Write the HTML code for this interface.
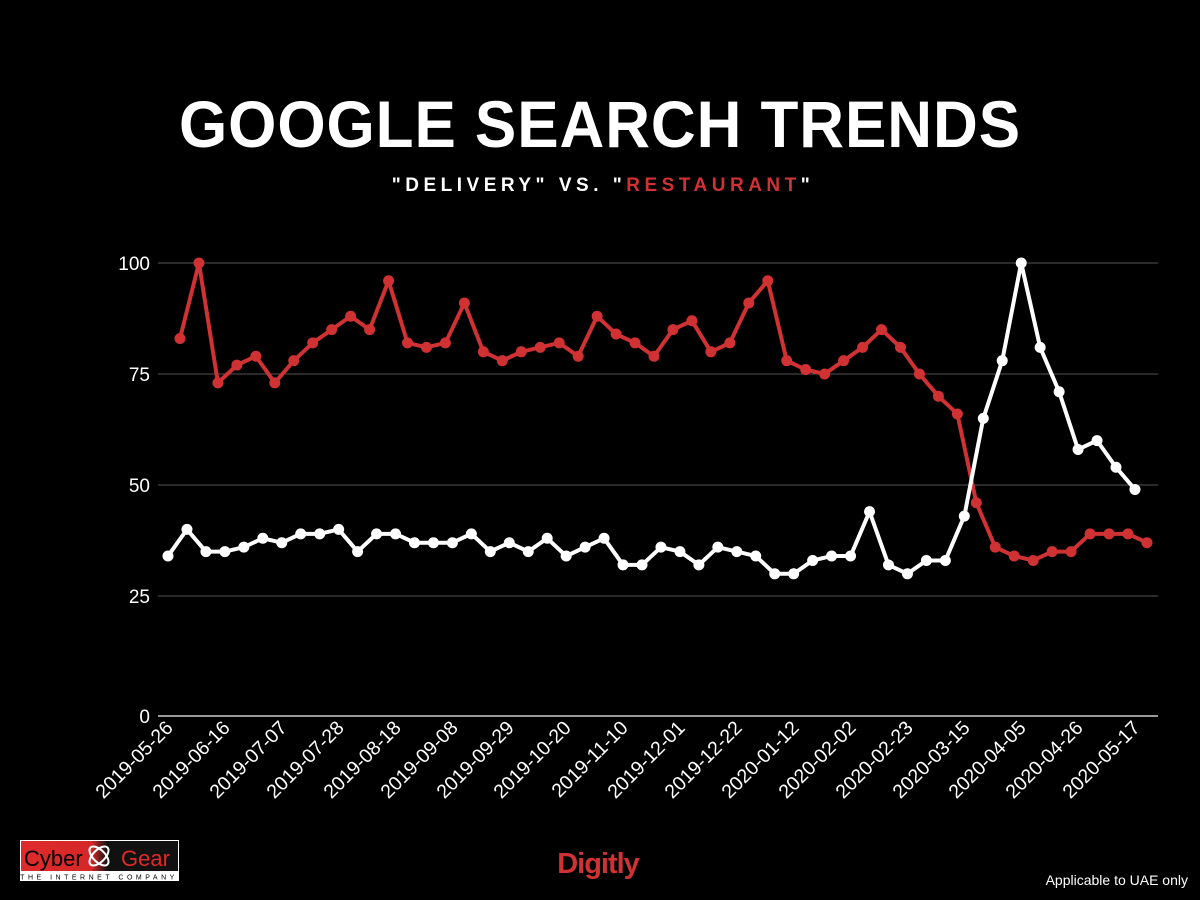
<!DOCTYPE html>
<html><head><meta charset="utf-8"><style>
body{margin:0;background:#000;width:1200px;height:900px;overflow:hidden;font-family:"Liberation Sans",sans-serif}
</style></head><body>
<svg id="s" width="1200" height="900" xmlns="http://www.w3.org/2000/svg" style="position:absolute;left:0;top:0">
<rect width="1200" height="900" fill="#000"/>
<text x="600" y="147" text-anchor="middle" fill="#fff" font-size="66" font-weight="bold" font-family="Liberation Sans, sans-serif" letter-spacing="1" textLength="842" lengthAdjust="spacingAndGlyphs">GOOGLE SEARCH TRENDS</text>
<text x="603" y="191" text-anchor="middle" fill="#fff" font-size="19" font-weight="bold" letter-spacing="4.5">"DELIVERY" VS. "<tspan fill="#d03234">RESTAURANT</tspan>"</text>
<g stroke="#555" stroke-width="1">
<line x1="158" x2="1158" y1="263" y2="263"/><line x1="158" x2="1158" y1="374" y2="374"/>
<line x1="158" x2="1158" y1="485" y2="485"/><line x1="158" x2="1158" y1="596" y2="596"/>
</g>
<line x1="158" x2="1158" y1="716" y2="716" stroke="#ccc" stroke-width="1.5"/>
<g fill="#fff" font-size="19" text-anchor="end">
<text x="150" y="270">100</text><text x="150" y="381">75</text><text x="150" y="492">50</text><text x="150" y="603">25</text><text x="150" y="723">0</text>
</g>
<g id="series"></g>
<text x="598" y="873" text-anchor="middle" fill="#d03234" font-size="29" font-weight="bold" letter-spacing="-1">Digitly</text>
<text x="1188" y="885" text-anchor="end" fill="#fff" font-size="14">Applicable to UAE only</text>
<defs><linearGradient id="lg" x1="0" x2="1"><stop offset="0" stop-color="#e02a2a"/><stop offset="0.45" stop-color="#d42828"/><stop offset="0.55" stop-color="#111"/><stop offset="1" stop-color="#111"/></linearGradient></defs>
<rect x="20" y="840" width="159" height="41" fill="#fff"/>
<rect x="21" y="841" width="157" height="30" fill="url(#lg)"/>
<text x="24" y="866" font-size="22" fill="#000">Cyber</text>
<ellipse cx="99" cy="856" rx="12" ry="6" fill="none" stroke="#fff" stroke-width="2" transform="rotate(45 99 856)"/>
<ellipse cx="99" cy="856" rx="12" ry="6" fill="none" stroke="#fff" stroke-width="2" transform="rotate(-45 99 856)"/>
<text x="121" y="866" font-size="22" fill="#e02a2a">Gear</text>
<text x="99" y="879.5" text-anchor="middle" font-size="7" fill="#000" letter-spacing="3.5">THE INTERNET COMPANY</text>
<g fill="#fff" font-size="19.5" text-anchor="end">
<text transform="translate(174,729) rotate(-45)">2019-05-26</text>
<text transform="translate(231,729) rotate(-45)">2019-06-16</text>
<text transform="translate(288,729) rotate(-45)">2019-07-07</text>
<text transform="translate(345,729) rotate(-45)">2019-07-28</text>
<text transform="translate(402,729) rotate(-45)">2019-08-18</text>
<text transform="translate(459,729) rotate(-45)">2019-09-08</text>
<text transform="translate(515,729) rotate(-45)">2019-09-29</text>
<text transform="translate(572,729) rotate(-45)">2019-10-20</text>
<text transform="translate(629,729) rotate(-45)">2019-11-10</text>
<text transform="translate(686,729) rotate(-45)">2019-12-01</text>
<text transform="translate(743,729) rotate(-45)">2019-12-22</text>
<text transform="translate(800,729) rotate(-45)">2020-01-12</text>
<text transform="translate(857,729) rotate(-45)">2020-02-02</text>
<text transform="translate(914,729) rotate(-45)">2020-02-23</text>
<text transform="translate(971,729) rotate(-45)">2020-03-15</text>
<text transform="translate(1027,729) rotate(-45)">2020-04-05</text>
<text transform="translate(1084,729) rotate(-45)">2020-04-26</text>
<text transform="translate(1141,729) rotate(-45)">2020-05-17</text>
</g>
</svg>
<script>
var red=[83,100,73,77,79,73,78,82,85,88,85,96,82,81,82,91,80,78,80,81,82,79,88,84,82,79,85,87,80,82,91,96,78,76,75,78,81,85,81,75,70,66,46,36,34,33,35,35,39,39,39,37];
var wh=[34,40,35,35,36,38,37,39,39,40,35,39,39,37,37,37,39,35,37,35,38,34,36,38,32,32,36,35,32,36,35,34,30,30,33,34,34,44,32,30,33,33,43,65,78,100,81,71,58,60,54,49];
var g=document.getElementById('series'),ns='http://www.w3.org/2000/svg';
function draw(d,x0,c){var sp=18.96,pts=d.map(function(v,i){return [x0+i*sp,707-v*4.44];});
var p=document.createElementNS(ns,'polyline');p.setAttribute('points',pts.map(function(a){return a.join(',')}).join(' '));
p.setAttribute('fill','none');p.setAttribute('stroke',c);p.setAttribute('stroke-width','4');p.setAttribute('stroke-linejoin','round');g.appendChild(p);
pts.forEach(function(a){var e=document.createElementNS(ns,'circle');e.setAttribute('cx',a[0]);e.setAttribute('cy',a[1]);e.setAttribute('r','5.5');e.setAttribute('fill',c);g.appendChild(e);});}
draw(red,180,'#d03234');draw(wh,168,'#ffffff');
</script>
</body></html>
